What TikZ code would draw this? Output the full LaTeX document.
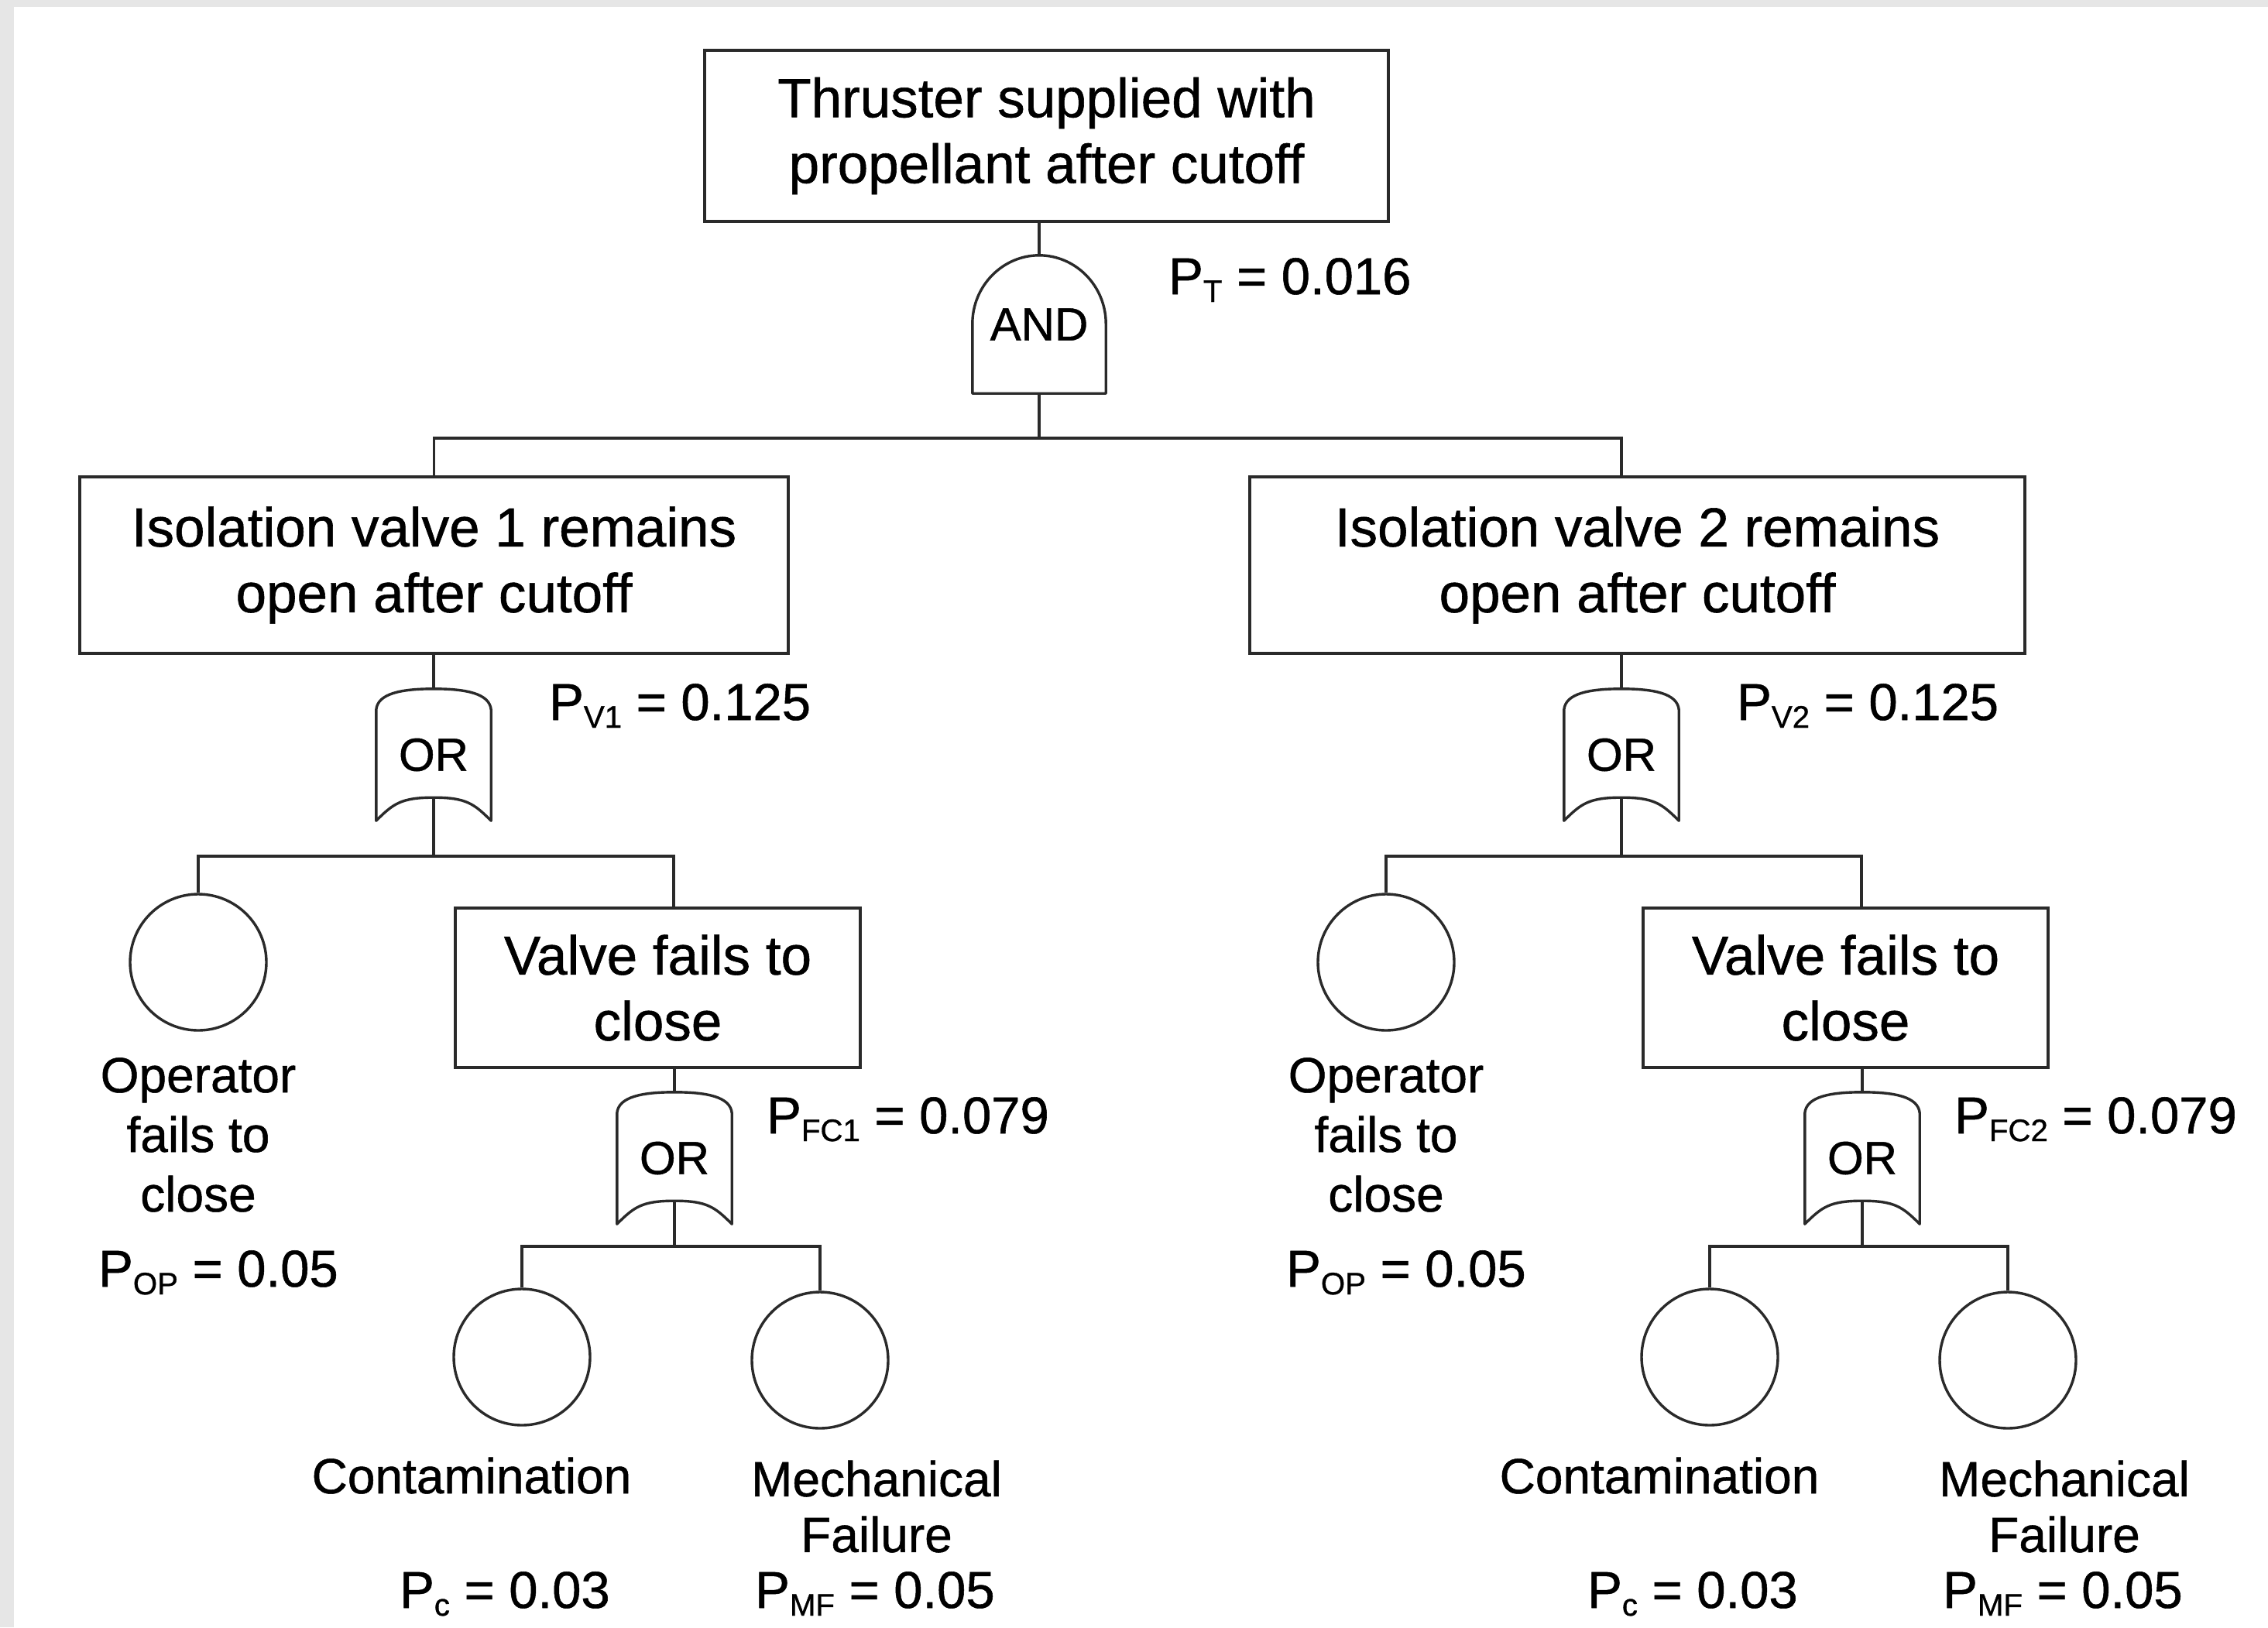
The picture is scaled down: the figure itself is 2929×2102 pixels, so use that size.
\documentclass[tikz,border=0pt]{standalone}
\usepackage{fontspec}
\setmainfont{Liberation Sans}[FakeBold=0.8]
\usetikzlibrary{calc}

\definecolor{ink}{HTML}{2A2A2A}
\definecolor{edge}{HTML}{E6E6E6}

\newcommand\Psub[1]{P\raisebox{-0.15em}{\scalebox{0.6}{#1}}}
\newcommand\boxfont{\fontsize{71}{85}\selectfont}
\newcommand\labfont{\fontsize{64}{77}\selectfont}
\newcommand\probfont{\fontsize{67}{80}\selectfont}
\newcommand\gatefont{\fontsize{60}{72}\selectfont}

\tikzset{
  conn/.style={draw=ink, line width=3.4pt},
  gateline/.style={draw=ink, line width=3.4pt, line join=round},
  evbox/.style={draw=ink, line width=4pt, rectangle, inner sep=0pt,
    align=center, font=\boxfont},
  eventc/.style={draw=ink, line width=3.4pt, circle, minimum size=176pt, inner sep=0pt},
  andgate/.style={rectangle, minimum width=172pt, minimum height=178pt,
    inner sep=0pt, font=\gatefont},
  orgate/.style={rectangle, minimum width=148pt, minimum height=170pt,
    inner sep=0pt, font=\gatefont},
  lab/.style={inner sep=0pt, font=\labfont, align=center},
  prob/.style={inner sep=0pt, font=\probfont, anchor=base west},
}

% AND gate: flat base, straight sides, half-ellipse dome
\newcommand\andoutline[1]{%
  \draw[gateline] (#1.south west) -- ($(#1.south west)+(0,-90)$)
    .. controls ($(#1.south west)+(0,-139)$) and ($(#1.north)+(-47,0)$) .. (#1.north)
    .. controls ($(#1.north)+(47,0)$) and ($(#1.south east)+(0,-139)$) .. ($(#1.south east)+(0,-90)$)
    -- (#1.south east) -- cycle;}

% OR gate: rounded top, straight sides, concave base
\newcommand\oroutline[1]{%
  \draw[gateline] (#1.south west) -- ($(#1.north west)+(0,27)$)
    .. controls ($(#1.north west)+(2,6)$) and ($(#1.north)+(-42,0)$) .. (#1.north)
    .. controls ($(#1.north)+(42,0)$) and ($(#1.north east)+(-2,6)$) .. ($(#1.north east)+(0,27)$)
    -- (#1.south east)
    .. controls ($(#1.south east)+(-22,-22)$) and ($(#1.south)+(42,-30)$) .. ($(#1.south)+(0,-30)$)
    .. controls ($(#1.south)+(-42,-30)$) and ($(#1.south west)+(22,-22)$) .. (#1.south west)
    -- cycle;
  \coordinate (#1-out) at ($(#1.south)+(0,-30)$);}

% one isolation-valve branch below its box
\newcommand\valvebranch[2]{%
  \begin{scope}[xshift=#2]
    \node[orgate] (or#1) at (560,975) {OR};
    \oroutline{or#1}
    \draw[conn] (or#1.north) -- (or#1.north |- v#1.south);
    \node[prob] (pv#1) at (709,930) {\Psub{V#1} = 0.125};

    \coordinate (bar#1) at (560,1106);
    \node[eventc] (op#1) at (256,1243) {};
    \node[evbox, minimum width=523pt, minimum height=206pt] (vf#1) at (849.5,1276)
      {Valve fails to\\close};
    \coordinate (vf#1-in) at (870,1173);
    \draw[conn] (or#1-out) -- (bar#1);
    \draw[conn] (op#1.north) |- (vf#1-in |- bar#1) -- (vf#1-in);

    \node[lab] (opt#1) at (256,1466) {Operator\\fails to\\close};
    \node[prob] (pop#1) at (127,1662) {\Psub{OP} = 0.05};

    \node[orgate] (ora#1) at (871,1496) {OR};
    \oroutline{ora#1}
    \draw[conn] (ora#1.north) -- (ora#1.north |- vf#1.south);
    \node[prob] (pfc#1) at (990,1464) {\Psub{FC#1} = 0.079};

    \coordinate (barb#1) at (871,1610);
    \node[eventc] (ct#1) at (674,1753) {};
    \node[eventc] (mf#1) at (1059,1757) {};
    \draw[conn] (ora#1-out) -- (barb#1);
    \draw[conn] (ct#1.north) |- (barb#1) -| (mf#1.north);

    \node[lab, anchor=base] (ctt#1) at (609,1929) {Contamination};
    \node[prob] (pc#1) at (516,2077) {\Psub{c} = 0.03};
    \node[lab, font=\fontsize{64}{72}\selectfont] (mft#1) at (1132,1946) {Mechanical\\Failure};
    \node[prob] (pmf#1) at (975,2077) {\Psub{MF} = 0.05};
  \end{scope}}

\begin{document}
\begin{tikzpicture}[x=1pt, y=-1pt]
  \useasboundingbox (0,0) rectangle (2929,2102);
  \fill[white] (0,0) rectangle (2929,2102);
  \fill[edge] (0,0) rectangle (2929,9);
  \fill[edge] (0,0) rectangle (18,2102);

  % top event and AND gate
  \node[evbox, minimum width=883pt, minimum height=221pt] (top) at (1351.5,175.5)
    {Thruster supplied with\\propellant after cutoff};
  \node[andgate] (andg) at (1342,419) {AND};
  \andoutline{andg}
  \draw[conn] (andg.north) -- (andg.north |- top.south);
  \node[prob] (pt) at (1509,380) {\Psub{T} = 0.016};

  % the two isolation valves
  \node[evbox, minimum width=915pt, minimum height=228pt] (v1) at (560.5,730)
    {Isolation valve 1 remains\\open after cutoff};
  \node[evbox, minimum width=1001pt, minimum height=228pt] (v2) at (2114.5,730)
    {Isolation valve 2 remains\\open after cutoff};
  \coordinate (bar0) at (1342,566);
  \coordinate (v2-in) at (2094,616);
  \draw[conn] (andg.south) -- (bar0);
  \draw[conn] (v1.north) |- (v2-in |- bar0) -- (v2-in);

  \valvebranch{1}{0pt}
  \valvebranch{2}{1534pt}
\end{tikzpicture}
\end{document}
